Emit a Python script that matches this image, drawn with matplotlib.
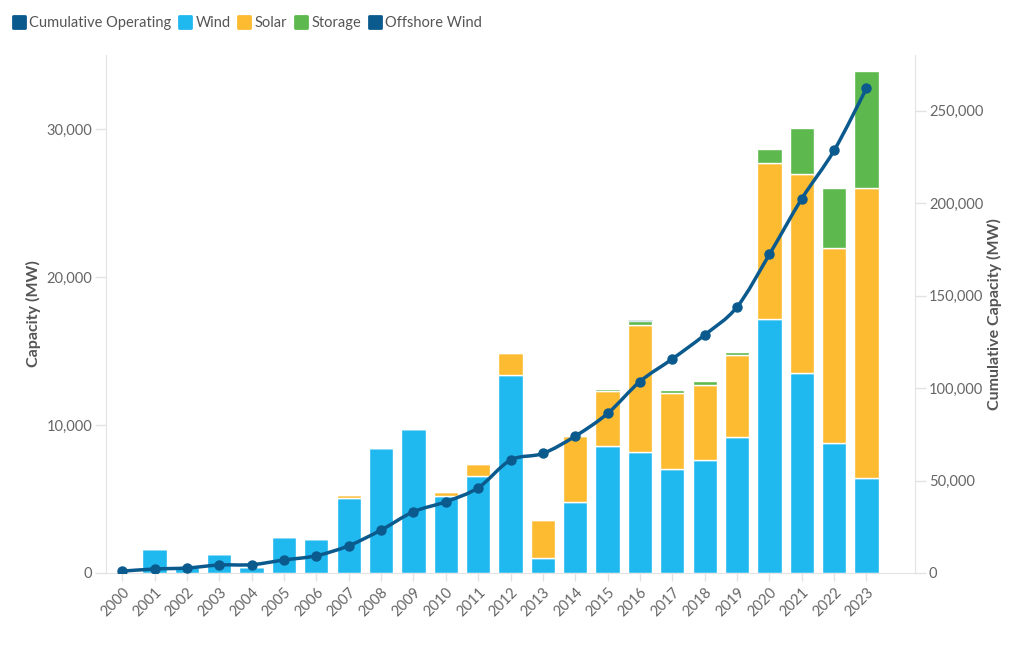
import numpy as np
import matplotlib
matplotlib.use("Agg")
import matplotlib.pyplot as plt
from matplotlib.path import Path
from matplotlib.patches import PathPatch
from matplotlib.lines import Line2D
from matplotlib.markers import MarkerStyle
from matplotlib.ticker import FuncFormatter, FixedLocator

plt.rcParams['font.family'] = ['Lato', 'DejaVu Sans']

years = [str(y) for y in range(2000, 2024)]
wind = [70, 1600, 400, 1300, 390, 2400, 2330, 5100, 8450, 9700, 5230, 6580, 13380, 1030,
        4820, 8600, 8180, 7000, 7610, 9170, 17180, 13510, 8760, 6400]
solar = [0, 0, 0, 0, 0, 0, 0, 150, 0, 0, 250, 780, 1500, 2570,
         4410, 3700, 8600, 5140, 5070, 5530, 10540, 13470, 13200, 19630]
storage = [0, 0, 0, 0, 0, 0, 0, 0, 0, 0, 0, 0, 60, 0,
           70, 110, 270, 200, 270, 210, 910, 3070, 4030, 7870]
offshore = [0, 0, 0, 0, 0, 0, 0, 0, 0, 0, 0, 0, 0, 0,
            0, 0, 30, 0, 0, 0, 0, 0, 0, 0]
cumulative = [1000, 2160, 2700, 4320, 4500, 7020, 9340, 14740, 23220, 33100, 38500, 46060,
              61000, 64630, 73970, 86230, 103500, 115700, 128700, 143800, 172200, 202300,
              228400, 262000]

C_CUM = '#0b5a8e'
C_WIND = '#20b9ef'
C_SOLAR = '#fcbb30'
C_STOR = '#5db94d'
C_OFF = '#0b5a8e'
GRID = '#e3e3e3'
TXT = '#666666'

fig = plt.figure(figsize=(10.24, 6.45), dpi=100)
ax = fig.add_axes([106/1024, 1-573/645, (915-106)/1024, (573-55)/645])
ax2 = ax.twinx()

x = np.arange(len(years))
w = 0.75
wind_a = np.array(wind, float)
solar_a = np.array(solar, float)
stor_a = np.array(storage, float)
off_a = np.array(offshore, float)
ax.bar(x, wind_a, w, color=C_WIND, edgecolor='white', linewidth=1, zorder=2)
ax.bar(x, solar_a, w, bottom=wind_a, color=C_SOLAR, edgecolor='white', linewidth=1, zorder=2)
ax.bar(x, stor_a, w, bottom=wind_a + solar_a, color=C_STOR, edgecolor='white', linewidth=1, zorder=2)
ax.bar(x, off_a, w, bottom=wind_a + solar_a + stor_a, color=C_OFF, edgecolor='white', linewidth=0.5, zorder=2)

ax.set_xlim(-0.5, 24.5)
ax.set_ylim(0, 35000)
ax2.set_ylim(0, 280000)

# smooth line (Catmull-Rom as cubic Bezier through the data points)
xs = x.astype(float)
ys = np.array(cumulative, float)
verts = [(xs[0], ys[0])]
codes = [Path.MOVETO]
t = 1/6
for i in range(len(xs) - 1):
    p0 = (xs[i-1], ys[i-1]) if i > 0 else (xs[i], ys[i])
    p1 = (xs[i], ys[i])
    p2 = (xs[i+1], ys[i+1])
    p3 = (xs[i+2], ys[i+2]) if i + 2 < len(xs) else (xs[i+1], ys[i+1])
    c1 = (p1[0] + (p2[0]-p0[0])*t, p1[1] + (p2[1]-p0[1])*t)
    c2 = (p2[0] - (p3[0]-p1[0])*t, p2[1] - (p3[1]-p1[1])*t)
    verts += [c1, c2, p2]
    codes += [Path.CURVE4]*3
ax2.add_patch(PathPatch(Path(verts, codes), facecolor='none', edgecolor=C_CUM, lw=2.5, zorder=3,
                        capstyle='round', joinstyle='round'))
ax2.plot(xs, ys, 'o', color=C_CUM, ms=6.5, zorder=4)

# axes styling
for a in (ax, ax2):
    a.spines['top'].set_visible(False)
    a.spines['left'].set_color(GRID)
    a.spines['right'].set_color(GRID)
    a.spines['bottom'].set_color(GRID)
ax.spines['right'].set_visible(False)
ax2.spines['left'].set_visible(False)
ax2.spines['bottom'].set_visible(False)

fmt = FuncFormatter(lambda v, p: f'{int(v):,}')
ax.yaxis.set_major_locator(FixedLocator([0, 10000, 20000, 30000]))
ax.yaxis.set_major_formatter(fmt)
ax2.yaxis.set_major_locator(FixedLocator([0, 50000, 100000, 150000, 200000, 250000]))
ax2.yaxis.set_major_formatter(fmt)
ax.tick_params(axis='y', colors=GRID, labelcolor=TXT, labelsize=10.5, length=8, width=1, pad=2)
ax2.tick_params(axis='y', colors=GRID, labelcolor=TXT, labelsize=10.5, length=8, width=1, pad=2)
ax.set_xticks(x)
ax.set_xticklabels(years, rotation=45, ha='right', rotation_mode='anchor')
ax.tick_params(axis='x', colors=GRID, labelcolor=TXT, labelsize=10.5, length=6, width=1, pad=3)

ax.set_ylabel('Capacity (MW)', fontsize=11.5, fontweight='bold', color='#555555', labelpad=4)
ax2.set_ylabel('Cumulative Capacity (MW)', fontsize=11.5, fontweight='bold', color='#555555', labelpad=3)

# legend
labels = ['Cumulative Operating', 'Wind', 'Solar', 'Storage', 'Offshore Wind']
colors = [C_CUM, C_WIND, C_SOLAR, C_STOR, C_OFF]
handles = [Line2D([0], [0], marker=MarkerStyle('s', joinstyle='round'), ls='none', markersize=8.5,
                  markerfacecolor=c, markeredgecolor=c, markeredgewidth=2) for c in colors]
leg = fig.legend(handles, labels, loc='upper left', bbox_to_anchor=(0.0, 0.996), ncol=5,
                 frameon=False, fontsize=10.5, handlelength=0.8, handletextpad=0.3,
                 columnspacing=0.55, labelcolor='#555555')

fig.savefig('out.png', dpi=100, facecolor='white')
